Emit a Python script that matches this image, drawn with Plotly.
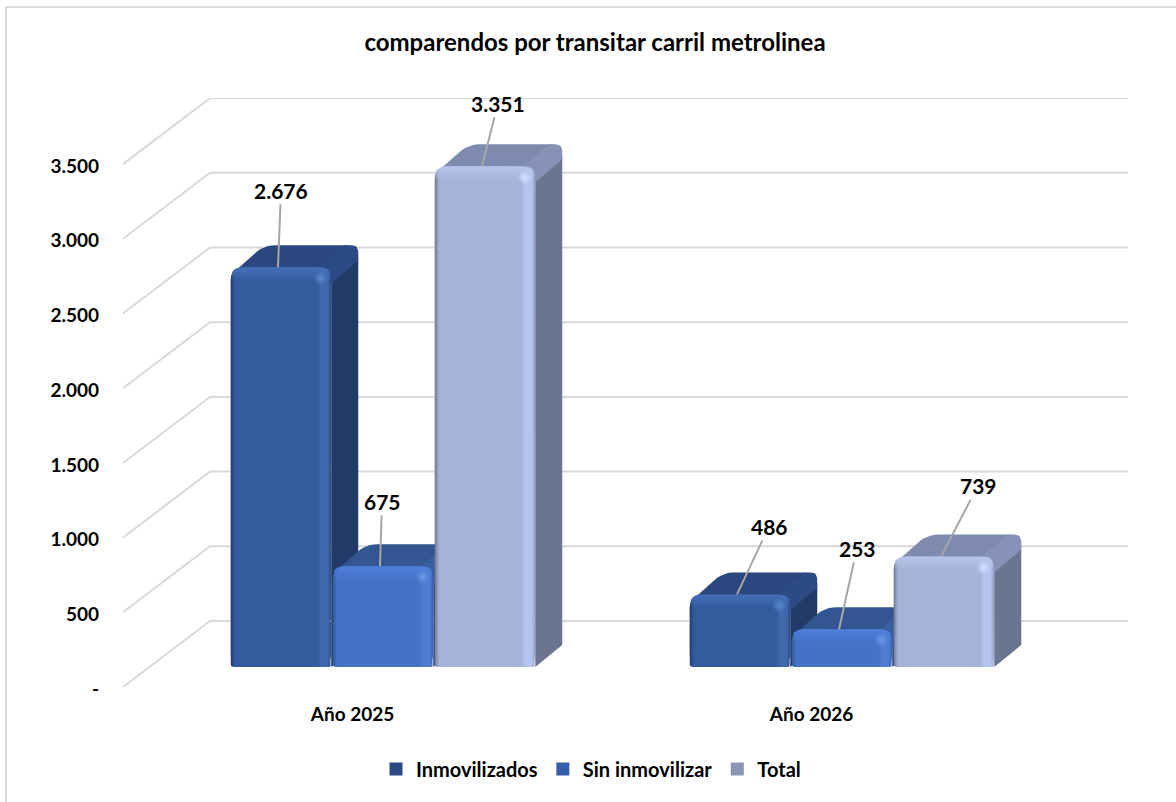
import plotly.graph_objects as go

# ---- data ----
categories = ["Año 2025", "Año 2026"]
inmovilizados = [2676, 486]
sin_inmovilizar = [675, 253]
total = [3351, 739]
y_ticks = [0, 500, 1000, 1500, 2000, 2500, 3000, 3500]
y_tick_labels = ["-", "500", "1.000", "1.500", "2.000", "2.500", "3.000", "3.500"]

# ---- scale of the plot (pixels per data unit) ----
W, H = 1176, 802
L_PX, R_PX, T_PX, B_PX = 123, 1128, 98, 687
PX_CAT = 459.0
PX_VAL = 0.1494
FONT = "Lato"
px = lambda d: d / PX_CAT
pv = lambda d: d / PX_VAL

X_RANGE = [-0.5, -0.5 + (R_PX - L_PX) / PX_CAT]
Y_RANGE = [0, (B_PX - T_PX) / PX_VAL]
WALL_DX, WALL_DY = px(87), pv(66)
BAR_DX, BAR_DY = px(27), pv(22)
BAR_W = px(100.5)
BAR_PITCH = px(102)
GROUP_SHIFT = px(30.5)
BAR_BASE = pv(20)

series = [
    dict(name="Inmovilizados", vals=inmovilizados, front="#345b9e", left="#234070", light="#3f69ac",
         edge="#2a4a80", side="#223a68", top="#2a477f", band="#2c4b85", glow="#4470b8", hi="#5b88d2",
         swatch="#2a4a85"),
    dict(name="Sin inmovilizar", vals=sin_inmovilizar, front="#4472c4", left="#33589c", light="#4f7dd1",
         edge="#3a62ad", side="#294a85", top="#335693", band="#37609f", glow="#4f7fdc", hi="#6a97e6",
         swatch="#345ea8"),
    dict(name="Total", vals=total, front="#a6b3d8", left="#737a8f", light="#b5c4ee",
         edge="#8f9ab9", side="#6b7590", top="#7f8bae", band="#8793b6", glow="#b6c5ee", hi="#d3e0ff",
         swatch="#8a95b5"),
]
label_offsets = [[(3, -77), (32, -68)], [(2, -65), (18, -81)], [(16, -63), (37, -71)]]


def rounded(corners, n=6):
    """Polygon with rounded corners; corners are (x, y, radius_px) in data units."""
    P = [(c[0] * PX_CAT, c[1] * PX_VAL, c[2]) for c in corners]
    out = []
    m = len(P)
    for i in range(m):
        x, y, r = P[i]
        if r <= 0:
            out.append((x, y))
            continue
        a, b = P[i - 1], P[(i + 1) % m]
        la = ((a[0] - x) ** 2 + (a[1] - y) ** 2) ** 0.5
        lb = ((b[0] - x) ** 2 + (b[1] - y) ** 2) ** 0.5
        ra, rb = min(r, la / 2), min(r, lb / 2)
        s = (x + (a[0] - x) * ra / la, y + (a[1] - y) * ra / la)
        e = (x + (b[0] - x) * rb / lb, y + (b[1] - y) * rb / lb)
        for k in range(n + 1):
            t = k / n
            out.append(((1 - t) ** 2 * s[0] + 2 * t * (1 - t) * x + t * t * e[0],
                        (1 - t) ** 2 * s[1] + 2 * t * (1 - t) * y + t * t * e[1]))
    xs = [p[0] / PX_CAT for p in out] + [out[0][0] / PX_CAT]
    ys = [p[1] / PX_VAL for p in out] + [out[0][1] / PX_VAL]
    return xs, ys


def poly(corners, group, color=None, gradient=None):
    xs, ys = rounded(corners)
    kw = dict(fillgradient=gradient) if gradient else dict(fillcolor=color)
    return go.Scatter(x=xs, y=ys, mode="lines", line=dict(width=0), fill="toself", legendgroup=group,
                      hoverinfo="skip", showlegend=False, **kw)


def rgba0(hex_color):
    h = hex_color.lstrip("#")
    return "rgba(%d,%d,%d,0)" % (int(h[:2], 16), int(h[2:4], 16), int(h[4:], 16))


fig = go.Figure()

# gridlines on the floor-to-wall diagonal and the back wall
gx, gy = [], []
for t in y_ticks:
    gx += [X_RANGE[0], X_RANGE[0] + WALL_DX, X_RANGE[1], None]
    gy += [t, t + WALL_DY, t + WALL_DY, None]
fig.add_trace(go.Scatter(x=gx, y=gy, mode="lines", line=dict(color="#d9d9d9", width=2),
                         hoverinfo="skip", showlegend=False))

# real bars (front faces)
for i, s in enumerate(series):
    off = GROUP_SHIFT + (i - 1) * BAR_PITCH - BAR_W / 2
    fig.add_trace(go.Bar(x=[0, 1], y=s["vals"], base=BAR_BASE, width=BAR_W, offset=off,
                         name=s["name"], legendgroup=s["name"], showlegend=False,
                         marker=dict(color=s["front"], line=dict(width=0), cornerradius=13),
                         hovertemplate="%{y}<extra>" + s["name"] + "</extra>"))

# 3D faces, painted left to right
for c in range(len(categories)):
    for i, s in enumerate(series):
        g = s["name"]
        left = c + GROUP_SHIFT + (i - 1) * BAR_PITCH - BAR_W / 2
        right = left + BAR_W
        base = BAR_BASE
        top = base + s["vals"][c]
        fig.add_trace(poly([(right, top, 0), (right + BAR_DX, top + BAR_DY, 13),
                            (right + BAR_DX, base + BAR_DY, 0), (right, base, 0)], g, s["side"]))
        fig.add_trace(poly([(left + px(3), top - pv(5), 0), (left + px(33), top + BAR_DY, 12),
                            (right + BAR_DX, top + BAR_DY, 13), (right, top - pv(3), 0)], g, s["top"]))
        fig.add_trace(poly([(right - px(12), top, 0), (right + BAR_DX - px(13), top + BAR_DY, 0),
                            (right + BAR_DX, top + BAR_DY, 13), (right + BAR_DX, top + BAR_DY - pv(15), 0),
                            (right, top - pv(16), 0)], g, s["band"]))
        grad_h = dict(type="horizontal", colorscale=[
            [0, s["left"]], [0.045, s["front"]], [0.86, s["front"]], [0.90, s["light"]],
            [0.965, s["light"]], [1, s["edge"]]])
        fig.add_trace(poly([(left, base, 3), (left, top, 13), (right, top, 13), (right, base, 3)], g,
                           gradient=grad_h))
        band_h = 14
        grad_v = dict(type="vertical", colorscale=[[0, rgba0(s["glow"])], [1, s["glow"]]])
        fig.add_trace(poly([(left + px(1), top - pv(band_h), 0), (left + px(1), top, 12),
                            (right - px(1), top, 12), (right - px(1), top - pv(band_h), 0)], g,
                           gradient=grad_v))
        grad_r = dict(type="radial", colorscale=[[0, s["hi"]], [1, rgba0(s["hi"])]])
        hx, hy, hr = right - px(11), top - pv(11), 7
        fig.add_trace(poly([(hx - px(hr), hy - pv(hr), hr), (hx - px(hr), hy + pv(hr), hr),
                            (hx + px(hr), hy + pv(hr), hr), (hx + px(hr), hy - pv(hr), hr)], g,
                           gradient=grad_r))

# legend entries (square swatches, grouped with each series' marks)
for s in series:
    fig.add_trace(go.Scatter(x=[None], y=[None], mode="markers", name=s["name"], legendgroup=s["name"],
                             marker=dict(symbol="square", size=13, color=s["swatch"]), hoverinfo="skip"))

# data labels with leader lines
annotations = []
for i, s in enumerate(series):
    for c, v in enumerate(s["vals"]):
        ax, ay = label_offsets[i][c]
        annotations.append(dict(
            x=c + GROUP_SHIFT + (i - 1) * BAR_PITCH - px(3), y=BAR_BASE + v,
            text=f"{v:,}".replace(",", "."), ax=ax, ay=ay, showarrow=True, arrowhead=0,
            arrowwidth=2, arrowcolor="#a6a6a6",
            font=dict(family=FONT, size=21, color="#000000", weight=700)))

paper_x = lambda p: (p - L_PX) / (R_PX - L_PX)
paper_y = lambda p: (B_PX - p) / (B_PX - T_PX)

fig.update_layout(
    width=W, height=H,
    margin=dict(l=L_PX, r=W - R_PX, t=T_PX, b=H - B_PX, pad=0, autoexpand=False),
    paper_bgcolor="#ffffff", plot_bgcolor="rgba(0,0,0,0)",
    barmode="overlay",
    font=dict(family=FONT, color="#000000"),
    title=dict(text="comparendos por transitar carril metrolinea", x=595 / W, y=1 - 43 / H,
               xanchor="center", yanchor="middle", xref="container", yref="container",
               font=dict(family=FONT, size=24, color="#000000", weight=700)),
    xaxis=dict(range=X_RANGE, tickvals=[0, 1], ticktext=categories, showgrid=False, zeroline=False,
               showline=False, ticks="", ticklabelstandoff=14,
               tickfont=dict(family=FONT, size=19, color="#000000", weight=700)),
    yaxis=dict(range=Y_RANGE, tickvals=y_ticks, ticktext=y_tick_labels, showgrid=False, zeroline=False,
               showline=False, ticks="", ticklabelstandoff=23, ticklabelshift=2,
               tickfont=dict(family=FONT, size=19, color="#000000", weight=700)),
    legend=dict(orientation="h", x=paper_x(591), y=paper_y(769), xanchor="center", yanchor="middle",
                font=dict(family=FONT, size=20, color="#000000", weight=700), bgcolor="rgba(0,0,0,0)"),
    annotations=annotations,
    shapes=[dict(type="line", xref="paper", yref="paper", x0=paper_x(6), x1=paper_x(W),
                 y0=paper_y(7), y1=paper_y(7), line=dict(color="#d9d9d9", width=2), layer="below"),
            dict(type="line", xref="paper", yref="paper", x0=paper_x(6), x1=paper_x(6),
                 y0=paper_y(6), y1=paper_y(H), line=dict(color="#d9d9d9", width=2), layer="below")],
)
fig.write_html("out.html", config=dict(displayModeBar=False), post_script="document.body.style.margin='0';")
